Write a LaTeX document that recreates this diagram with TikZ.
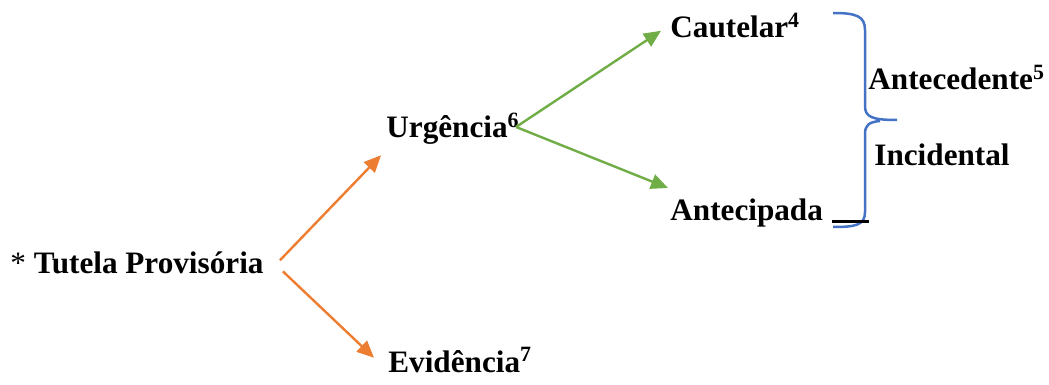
\documentclass[tikz,border=0pt]{standalone}
\usepackage{fontspec}
\setmainfont{Liberation Serif}
\usepackage{tikz}
\usetikzlibrary{arrows.meta,positioning}
\definecolor{laranja}{HTML}{ED7D31}
\definecolor{verde}{HTML}{70AD47}
\definecolor{azul}{HTML}{4472C4}
\tikzstyle{termo}=[anchor=base west,inner sep=0pt,font=\fontsize{15.6}{18}\selectfont\bfseries]
\tikzstyle{setalar}=[-{Triangle[length=8.5pt,width=7.5pt]},line width=1.2pt,laranja]
\tikzstyle{setaverde}=[-{Triangle[length=8.5pt,width=7.5pt]},line width=1.2pt,verde]
\tikzstyle{chave}=[azul,line width=1.25pt]

\begin{document}
\begin{tikzpicture}[x=0.5pt,y=-0.5pt]
\useasboundingbox (0,0) rectangle (1049,385);
\node[termo] (tutela) at (10,273) {\mdseries *\ \bfseries Tutela Provisória};
\node[termo] (urgencia) at (386,138) {Urgência\textsuperscript{6}};
\node[termo] (evidencia) at (388,372) {Evidência\textsuperscript{7}};
\node[termo] (cautelar) at (670,38) {Cautelar\textsuperscript{4}};
\node[termo] (antecipada) at (670,220) {Antecipada};
\node[termo] (antecedente) at (868,90) {Antecedente\textsuperscript{5}};
\node[termo] (incidental) at (874,165) {Incidental};
\draw[setalar] ([xshift=8pt,yshift=1pt]tutela.east) -- ([xshift=-2.5pt,yshift=-5pt]urgencia.south west);
\draw[setalar] ([xshift=9.5pt,yshift=-4.5pt]tutela.east) -- ([xshift=-7pt,yshift=1pt]evidencia.west);
\draw[setaverde] ([xshift=-2pt,yshift=1pt]urgencia.east) -- ([xshift=-4.5pt,yshift=-2.5pt]cautelar.west);
\draw[setaverde] ([xshift=-2pt,yshift=1pt]urgencia.east) -- ([xshift=-1pt,yshift=5pt]antecipada.north west);
% chave
\draw[chave] (833,13) .. controls (856,13) and (865,16) .. (865,30) -- (865,106)
  .. controls (865,117) and (872,120) .. (897,120);
\draw[chave] (880,121) .. controls (869,122) and (865,125) .. (865,134) -- (865,212)
  .. controls (865,225) and (856,227) .. (833,227);
\draw[line width=1.5pt] (832,221.5) -- (869,221.5);
\end{tikzpicture}
\end{document}
